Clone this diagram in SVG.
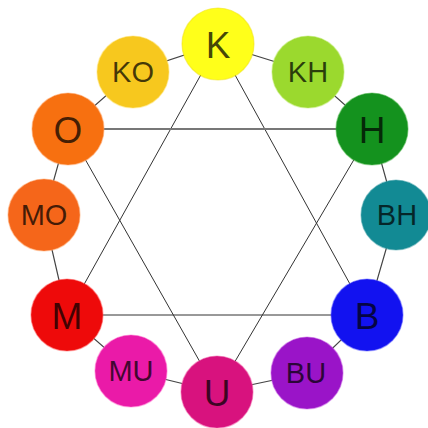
<svg xmlns="http://www.w3.org/2000/svg" width="428" height="428" viewBox="0 0 428 428">
<style>
.ring{stroke:#444;stroke-width:1.2;fill:none}
.star{stroke:#333;stroke-width:1;fill:none}
.node circle{stroke-width:1.2;stroke-opacity:0.5}
.node text{font-family:"Liberation Sans",Arial,sans-serif;fill:#000;fill-opacity:0.72;text-anchor:middle;dominant-baseline:central}
.big{font-size:37px}
.small{font-size:29px}
</style>
<rect width="428" height="428" fill="#ffffff"/>
<g id="connectors">
<line class="star" x1="218" y1="44" x2="67" y2="315"/>
<line class="star" x1="218" y1="44" x2="367" y2="315"/>
<line class="star" x1="67" y1="315" x2="367" y2="315"/>
<line class="star" x1="68" y1="129" x2="372" y2="129" style="stroke:#777;stroke-width:2"/>
<line class="star" x1="68" y1="129" x2="217" y2="392"/>
<line class="star" x1="372" y1="129" x2="217" y2="392"/>
<polygon class="ring" points="218,44 308,72 372,129 396,215 367,315 307,373 217,392 131,371 67,315 44,215 68,129 133,72"/>
</g>
<g id="K" class="node"><circle cx="218" cy="44" r="36" fill="#ffff1a" stroke="#f0e000"/><text x="218" y="45" class="big">K</text></g>
<g id="KH" class="node"><circle cx="308" cy="72" r="36" fill="#9bd92e" stroke="#b8e860"/><text x="308" y="72" class="small">KH</text></g>
<g id="H" class="node"><circle cx="372" cy="129" r="36" fill="#14921e" stroke="#40b040"/><text x="372" y="130" class="big">H</text></g>
<g id="BH" class="node"><circle cx="396" cy="215" r="35" fill="#128a94" stroke="#40a0a8"/><text x="397" y="215" class="small">BH</text></g>
<g id="B" class="node"><circle cx="367" cy="315" r="36" fill="#1212f0" stroke="#5050ff"/><text x="367" y="316" class="big">B</text></g>
<g id="BU" class="node"><circle cx="307" cy="373" r="36" fill="#9a14c8" stroke="#c050e0"/><text x="306" y="373" class="small">BU</text></g>
<g id="U" class="node"><circle cx="217" cy="392" r="36" fill="#d8127e" stroke="#f050a0"/><text x="217" y="393" class="big">U</text></g>
<g id="MU" class="node"><circle cx="131" cy="371" r="36" fill="#ea1aa8" stroke="#ff60c8"/><text x="131" y="371" class="small">MU</text></g>
<g id="M" class="node"><circle cx="67" cy="315" r="36" fill="#ee0a0a" stroke="#ff5050"/><text x="67" y="316" class="big">M</text></g>
<g id="MO" class="node"><circle cx="44" cy="215" r="36" fill="#f5661a" stroke="#ffa060"/><text x="44" y="215" class="small">MO</text></g>
<g id="O" class="node"><circle cx="68" cy="129" r="36" fill="#f77010" stroke="#ffa060"/><text x="68" y="130" class="big">O</text></g>
<g id="KO" class="node"><circle cx="133" cy="72" r="36" fill="#f7c81e" stroke="#ffe060"/><text x="133" y="72" class="small">KO</text></g>
</svg>
